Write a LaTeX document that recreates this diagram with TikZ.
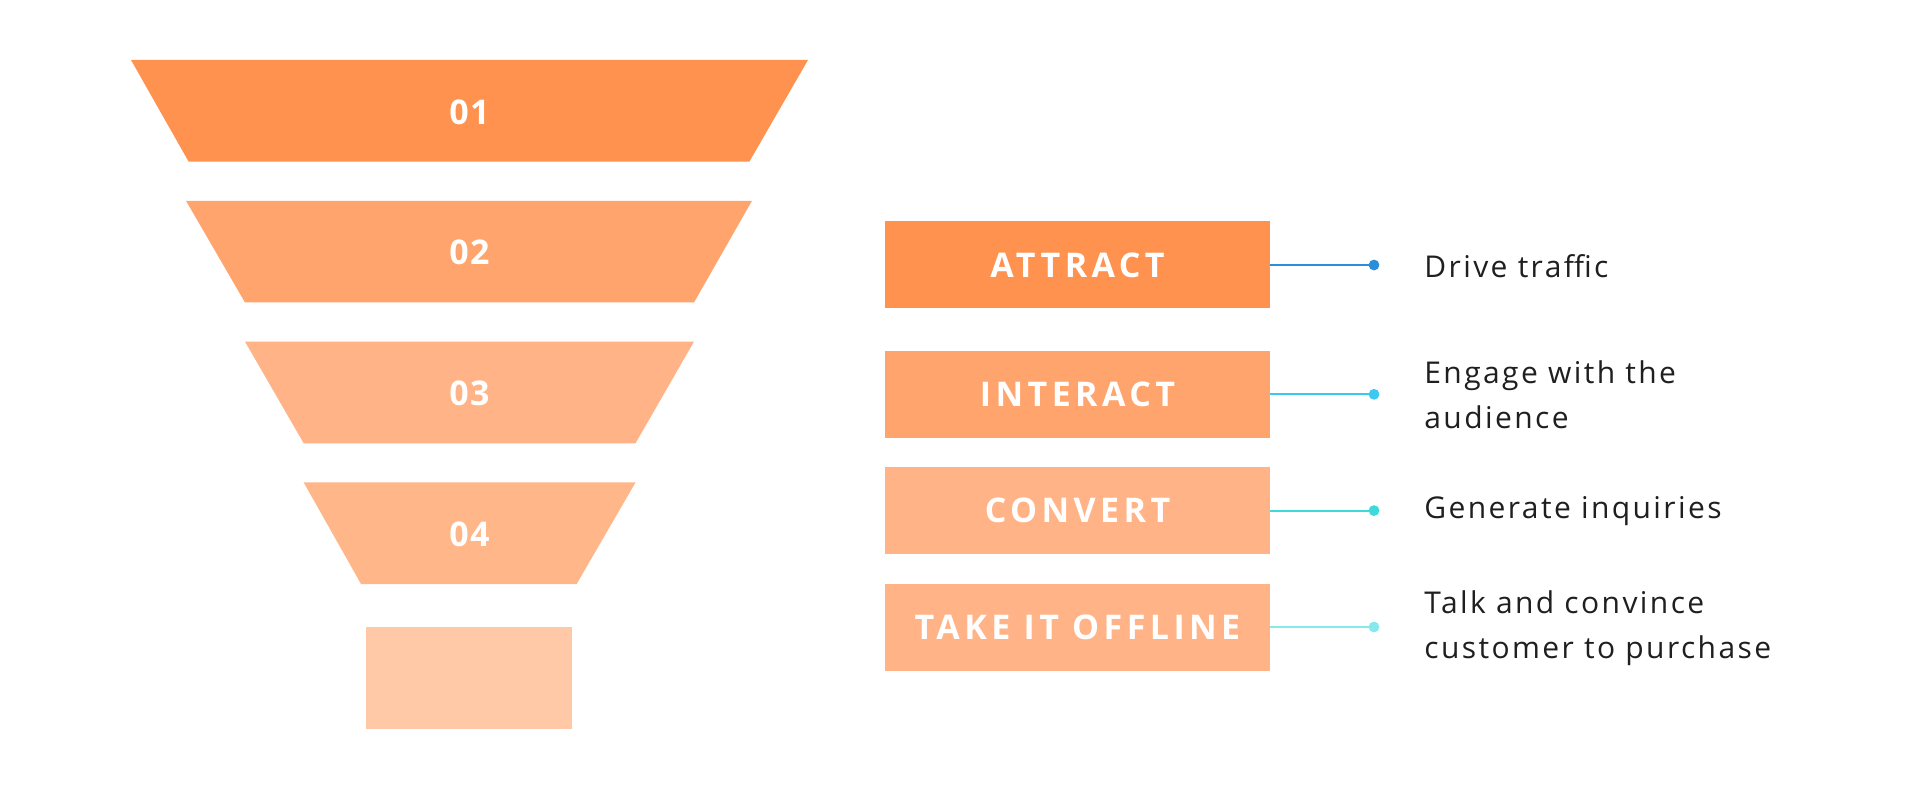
\documentclass[tikz,border=0pt]{standalone}
\usepackage{fontspec}
\setmainfont{Open Sans}
\newfontfamily\labfont[LetterSpace=13]{Open Sans}
\newfontfamily\digfont[LetterSpace=4]{Open Sans}
\newfontfamily\descfont[LetterSpace=8]{Open Sans}
\definecolor{o1}{HTML}{FF924F}
\definecolor{o2}{HTML}{FFA46C}
\definecolor{o3}{HTML}{FFB386}
\definecolor{o4}{HTML}{FFB78A}
\definecolor{o5}{HTML}{FFC8A6}
\definecolor{l1}{HTML}{2A8FD8}
\definecolor{l2}{HTML}{3CC8F0}
\definecolor{l3}{HTML}{3ED9DB}
\definecolor{l4}{HTML}{86E8EA}
\tikzset{
  stagebox/.style={minimum width=192.5pt, minimum height=43.5pt, inner sep=0pt, text=white, font=\labfont\bfseries\fontsize{17}{20}\selectfont},
  numlab/.style={text=white, font=\digfont\bfseries\fontsize{17}{20}\selectfont, inner sep=0pt},
  desc/.style={anchor=west, align=left, text=black!88, inner sep=0pt, font=\descfont\fontsize{15}{22.5}\selectfont},
  conn/.style={line width=1pt},
}
\begin{document}
\begin{tikzpicture}[x=0.5pt, y=-0.5pt]
\useasboundingbox (0,0) rectangle (1920,801);
% funnel
\fill[o1] (131,60) -- (808,60) -- (749.4,161.6) -- (188.6,161.6) -- cycle;
\fill[o2] (186,200.8) -- (752,200.8) -- (694,302.5) -- (245,302.5) -- cycle;
\fill[o3] (245,341.6) -- (694,341.6) -- (635.5,443.3) -- (303.7,443.3) -- cycle;
\fill[o4] (303.7,482.5) -- (635.5,482.5) -- (576.7,584) -- (361,584) -- cycle;
\fill[o5] (366,627) rectangle (572,728.6);
\node[numlab] (n1) at (469.5,112) {01};
\node[numlab] (n2) at (469.5,252.5) {02};
\node[numlab] (n3) at (469.5,393.5) {03};
\node[numlab] (n4) at (469.5,534) {04};
% stage boxes
\node[stagebox, fill=o1] (attract) at (1077.5,265) {ATTRACT};
\node[stagebox, fill=o2] (interact) at (1077.5,394.3) {INTERACT};
\node[stagebox, fill=o3] (convert) at (1077.5,510.6) {CONVERT};
\node[stagebox, fill=o3] (offline) at (1077.5,627) {TAKE IT OFFLINE};
% dots
\coordinate (d1) at (1374,265);
\coordinate (d2) at (1374,394.3);
\coordinate (d3) at (1374,510.6);
\coordinate (d4) at (1374,627);
\draw[conn, l1] (attract.east) -- (d1);
\draw[conn, l2] (interact.east) -- (d2);
\draw[conn, l3] (convert.east) -- (d3);
\draw[conn, l4] (offline.east) -- (d4);
\fill[l1] (d1) circle (2.7pt);
\fill[l2] (d2) circle (2.7pt);
\fill[l3] (d3) circle (2.7pt);
\fill[l4] (d4) circle (2.7pt);
% descriptions
\node[desc] (t1) at (1424,266) {Drive traffic};
\node[desc] (t2) at (1424,395) {Engage with the\\audience};
\node[desc] (t3) at (1424,511) {Generate inquiries};
\node[desc] (t4) at (1424,628) {Talk and convince\\customer to purchase};
\end{tikzpicture}
\end{document}
